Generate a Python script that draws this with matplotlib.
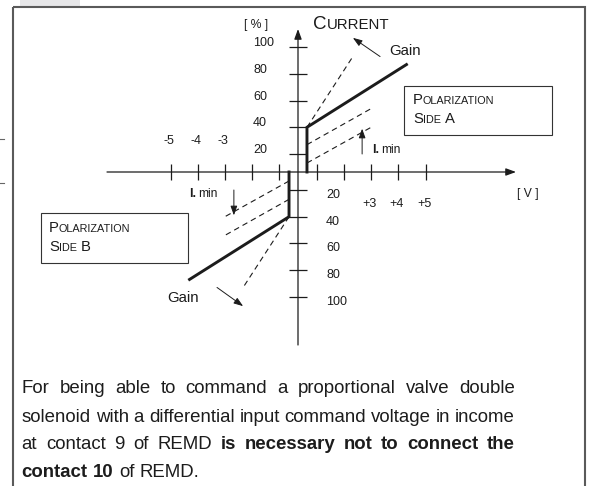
import numpy as np
import matplotlib
matplotlib.use('Agg')
import matplotlib.pyplot as plt
import matplotlib.transforms as mtransforms
from matplotlib.patches import Rectangle
from matplotlib.lines import Line2D

FONT = ['Liberation Sans', 'DejaVu Sans']
INK = '#1c1c1c'

# ---- data (volts / percent) ----
x_ticks = [-5, -4, -3, -2, -1, 1, 2, 3, 4, 5]
x_lab_neg = [-5, -4, -3]
x_lab_pos = [3, 4, 5]
y_ticks = [20, 40, 60, 80, 100, -20, -40, -60, -80, -100]
y_lab_up = [20, 40, 60, 80, 100]
y_lab_down = [-20, -40, -60, -80, -100]

side_a_v = [0.48, 0.48, 4.3]
side_a_p = [0, 40, 87]
side_b_v = [-0.48, -0.48, -4.3]
side_b_p = [0, -40, -87]
gain_a_v, gain_a_p = [0.48, 2.33], [40, 93]
gain_b_v, gain_b_p = [-0.48, -2.33], [-40, -93]
imin_a_v = [[0.48, 3.0], [0.48, 3.0]]
imin_a_p = [[27, 54], [10, 40]]
imin_b_v = [[-0.48, -3.0], [-0.48, -3.0]]
imin_b_p = [[-10, -40], [-27, -54]]

# ---- diagram scale: compressed first step, then linear ----
XG, XS = 18.7, 27.2   # px to 1 V, px per V
YG, YS = 18.0, 1.335  # px to 20 %, px per %


def fx(v):
    v = np.asarray(v, float); a = np.abs(v)
    return np.sign(v) * np.where(a <= 1, a * XG, XG + (a - 1) * XS)


def ix(u):
    u = np.asarray(u, float); a = np.abs(u)
    return np.sign(u) * np.where(a <= XG, a / XG, 1 + (a - XG) / XS)


def fy(p):
    p = np.asarray(p, float); a = np.abs(p)
    return np.sign(p) * np.where(a <= 20, a * YG / 20, YG + (a - 20) * YS)


def iy(u):
    u = np.asarray(u, float); a = np.abs(u)
    return np.sign(u) * np.where(a <= YG, a * 20 / YG, 20 + (a - YG) / YS)


W, H = 589, 486
OX, OY = 298, 172
fig = plt.figure(figsize=(W / 100, H / 100), dpi=100)
ax = fig.add_axes([0, 0, 1, 1])
ax.set_xscale('function', functions=(fx, ix))
ax.set_yscale('function', functions=(fy, iy))
ax.set_xlim(float(ix(-OX)), float(ix(W - OX)))
ax.set_ylim(float(iy(-(H - OY))), float(iy(OY)))
ax.axis('off')

pxT = mtransforms.Affine2D().scale(1, -1).translate(0, H)
renderer = fig.canvas.get_renderer()

# frame and page bits
fig.add_artist(Rectangle((20, -2), 60, 8, transform=pxT, fc='#e6e6e8', ec='none'))
fig.add_artist(Rectangle((13, 6.5), 572, 500, transform=pxT, fill=False,
                         ec='#5a5a5a', lw=1.5))
for yy in (139, 183):
    fig.add_artist(Line2D([0, 4], [yy, yy], transform=pxT, color='#666', lw=0.8))

# axes with arrows
arr = dict(arrowstyle='-|>,head_length=0.6,head_width=0.22', color=INK, lw=0.9,
           shrinkA=0, shrinkB=0, mutation_scale=10)
ax.annotate('', xy=(float(ix(218)), 0), xytext=(float(ix(-191)), 0), arrowprops=arr)
ax.annotate('', xy=(0, float(iy(143))), xytext=(0, float(iy(-173))), arrowprops=arr)

tx = float(iy(8))
ty = float(ix(9))
ax.vlines(x_ticks, -tx, tx, color=INK, lw=0.9)
ax.hlines(y_ticks, -ty, ty, color=INK, lw=0.9)

lab = dict(fontsize=9, family=FONT, color=INK, textcoords='offset points')
for v in x_lab_neg:
    ax.annotate('%d' % v, (v, 0), xytext=(-1.1, 19.9), ha='center', va='baseline', **lab)
for v in x_lab_pos:
    ax.annotate('+%d' % v, (v, 0), xytext=(-1.1, -25), ha='center', va='baseline', **lab)
for p in y_lab_up:
    ax.annotate('%d' % p, (0, p), xytext=(-32.4, 0.7), ha='left', va='baseline', **lab)
for p in y_lab_down:
    ax.annotate('%d' % -p, (0, p), xytext=(20.2, -5.8), ha='left', va='baseline', **lab)

# curves
ax.plot(side_a_v, side_a_p, color=INK, lw=2.1, solid_joinstyle='miter')
ax.plot(side_b_v, side_b_p, color=INK, lw=2.1, solid_joinstyle='miter')
dash = dict(color=INK, lw=0.8, linestyle=(0, (5, 3.6)))
ax.plot(gain_a_v, gain_a_p, **dash)
ax.plot(gain_b_v, gain_b_p, **dash)
for vv, pp in zip(imin_a_v, imin_a_p):
    ax.plot(vv, pp, **dash)
for vv, pp in zip(imin_b_v, imin_b_p):
    ax.plot(vv, pp, **dash)

small = dict(arrowstyle='-|>,head_length=0.7,head_width=0.25', color=INK, lw=0.7,
             shrinkA=0, shrinkB=0, mutation_scale=8)
ax.annotate('', xy=(2.67, 39), xytext=(2.67, 20), arrowprops=small)
ax.annotate('', xy=(-2.67, -39), xytext=(-2.67, -20), arrowprops=small)
ax.annotate('', xy=(2.33, 107), xytext=(3.33, 93), arrowprops=small)
ax.annotate('', xy=(-2.33, -107), xytext=(-3.29, -93), arrowprops=small)


def runs(x, y, parts):
    for s, size, weight in parts:
        if s == ' ':
            x += size * 0.278 * 100 / 72
            continue
        t = fig.text(x, y, s, transform=pxT, fontsize=size, fontweight=weight,
                     family=FONT, color=INK, ha='left', va='baseline')
        x += t.get_window_extent(renderer).width
    return x


# labels
fig.text(256.5, 25, '[ % ]', transform=pxT, fontsize=8.7, family=FONT, color=INK,
         ha='center', va='center')
fig.text(527.5, 194, '[ V ]', transform=pxT, fontsize=8.7, family=FONT, color=INK,
         ha='center', va='center')
runs(313, 28.5, [('C', 13.5, 'normal'), ('URRENT', 10.8, 'normal')])
runs(389, 55, [('Gain', 10.8, 'normal')])
runs(167, 301.5, [('Gain', 10.8, 'normal')])
runs(371.7, 152.7, [('I.', 9, 'bold'), (' ', 6, 'normal'), ('min', 8.7, 'normal')])
runs(189.3, 197.3, [('I.', 9, 'bold'), (' ', 6, 'normal'), ('min', 8.7, 'normal')])

fig.add_artist(Rectangle((404, 86), 148, 49, transform=pxT, fill=False, ec='#333', lw=0.8))
fig.add_artist(Rectangle((41, 213), 147, 50, transform=pxT, fill=False, ec='#333', lw=0.8))
runs(413, 104, [('P', 10.7, 'normal'), ('OLARIZATION', 7.8, 'normal')])
runs(413, 122.5, [('S', 10.7, 'normal'), ('IDE', 7.8, 'normal'), (' ', 10.7, 'normal'),
                  ('A', 10.7, 'normal')])
runs(49, 232, [('P', 10.7, 'normal'), ('OLARIZATION', 7.8, 'normal')])
runs(49, 251, [('S', 10.7, 'normal'), ('IDE', 7.8, 'normal'), (' ', 10.7, 'normal'),
               ('B', 10.7, 'normal')])

# paragraph, justified
para = [
    ([(w, 'normal') for w in 'For being able to command a proportional valve double'.split()], True),
    ([(w, 'normal') for w in 'solenoid with a differential input command voltage in income'.split()], True),
    ([(w, 'normal') for w in 'at contact 9 of REMD'.split()] +
     [(w, 'bold') for w in 'is necessary not to connect the'.split()], True),
    ([(w, 'bold') for w in 'contact 10'.split()] +
     [(w, 'normal') for w in 'of REMD.'.split()], False),
]
baselines = [393.3, 421.7, 449.3, 477.3]
LEFT, RIGHT, FS = 21.7, 515, 13.4
for (words, justify), yb in zip(para, baselines):
    texts = [fig.text(0, yb, w, transform=pxT, fontsize=FS, fontweight=wt, family=FONT,
                      color=INK, ha='left', va='baseline') for w, wt in words]
    widths = [t.get_window_extent(renderer).width for t in texts]
    if justify:
        gap = (RIGHT - LEFT - sum(widths)) / (len(words) - 1)
    else:
        gap = FS * 0.278 * 100 / 72
    x = LEFT
    for t, wd in zip(texts, widths):
        t.set_x(x)
        x += wd + gap

fig.savefig('out.png', dpi=100)
